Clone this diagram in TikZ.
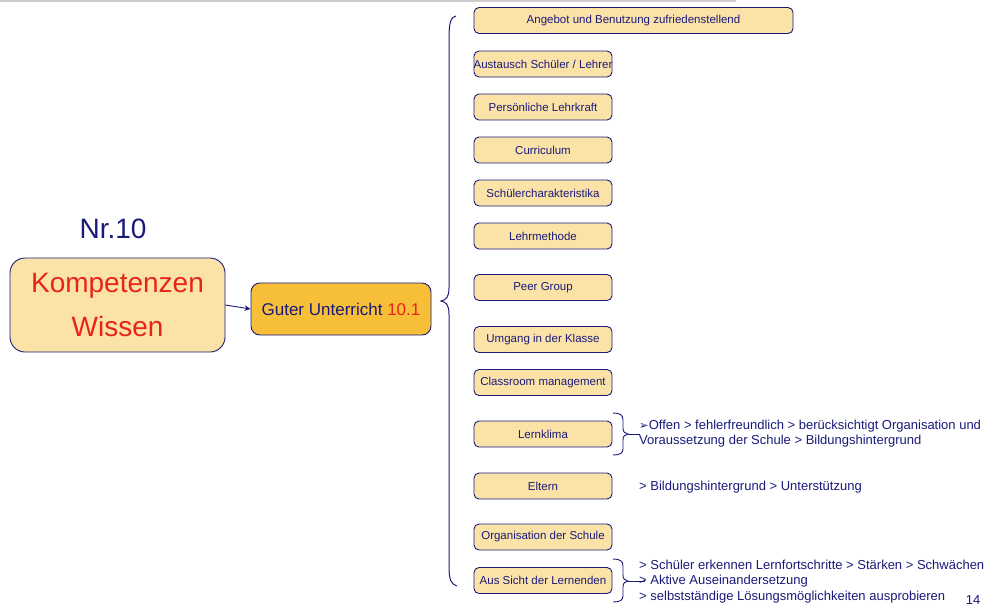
\documentclass[tikz,border=0pt]{standalone}
\usepackage{fontspec}
\setmainfont{Liberation Sans}
\newfontfamily\dejavu{DejaVu Sans}
\usetikzlibrary{arrows.meta}
\definecolor{navy}{RGB}{26,26,122}
\definecolor{boxfill}{RGB}{251,227,168}
\definecolor{orangefill}{RGB}{247,190,56}
\definecolor{redtxt}{RGB}{232,36,24}
\definecolor{topgray}{RGB}{205,205,205}
\newcommand{\sbx}[1]{\makebox[138pt]{#1}}
\begin{document}
\begin{tikzpicture}[x=1pt,y=-1pt,
  smallbox/.style={draw=navy, fill=boxfill, rounded corners=5pt, line width=0.9pt,
    minimum height=26pt, inner xsep=0pt, inner ysep=0pt,
    font=\fontsize{11.5}{13}\selectfont, text=navy},
  bigbox/.style={draw=navy, fill=boxfill, rounded corners=15pt, line width=0.9pt,
    minimum width=215pt, minimum height=94pt, align=center,
    font=\fontsize{28}{42}\selectfont, text=redtxt},
  midbox/.style={draw=navy, fill=orangefill, rounded corners=9pt, line width=0.9pt,
    minimum width=180pt, minimum height=52pt,
    font=\fontsize{17}{20}\selectfont, text=navy},
  sidetext/.style={anchor=west, inner sep=0pt, align=left, text=navy,
    font=\fontsize{13}{15.3}\selectfont},
  bracestyle/.style={draw=navy, line width=1pt}
]
\useasboundingbox (0,0) rectangle (992,606);
\fill[white] (0,0) rectangle (992,606);
\coordinate (g1) at (0,0.7);
\coordinate (g2) at (736,0.7);
\draw[topgray, line width=1.6pt] (g1) -- (g2);

\node[text=navy, font=\fontsize{28}{32}\selectfont] (nr) at (113,229) {Nr.10};
\node[bigbox] (komp) at (117.5,305) {\raisebox{2pt}{Kompetenzen}\\Wissen};
\node[midbox] (guter) at (341,309) {Guter Unterricht \textcolor{redtxt}{10.1}};
\draw[navy, line width=0.9pt, -{Stealth[length=6pt,width=5.5pt]}] (komp.east) -- (guter.west);

\node[smallbox, minimum width=319pt] (b1) at (633.5,20.5) {Angebot und Benutzung zufriedenstellend};
\node[smallbox] (b2) at (543,64) {\sbx{Austausch Schüler / Lehrer}};
\node[smallbox] (b3) at (543,107) {\sbx{Persönliche Lehrkraft}};
\node[smallbox] (b4) at (543,150) {\sbx{Curriculum}};
\node[smallbox] (b5) at (543,193) {\sbx{Schülercharakteristika}};
\node[smallbox] (b6) at (543,236) {\sbx{Lehrmethode}};
\node[smallbox] (b7) at (543,287.5) {\sbx{Peer Group}};
\node[smallbox] (b8) at (543,339.5) {\sbx{Umgang in der Klasse}};
\node[smallbox] (b9) at (543,382.5) {\sbx{Classroom management}};
\node[smallbox] (b10) at (543,434) {\sbx{Lernklima}};
\node[smallbox] (b11) at (543,486) {\sbx{Eltern}};
\node[smallbox] (b12) at (543,537) {\sbx{Organisation der Schule}};
\node[smallbox] (b13) at (543,580.5) {\sbx{Aus Sicht der Lernenden}};

% big brace
\coordinate (btip) at (441,301);
\draw[bracestyle] (456,16) .. controls (451,17) and (449,22) .. (449,38)
  -- (449,288) .. controls (449,297) and (446,300) .. (btip)
  .. controls (446,302) and (449,305) .. (449,314)
  -- (449,566) .. controls (449,580) and (451,584) .. (457,586);

% Lernklima brace
\coordinate (ltip) at (628,434);
\coordinate (lend) at (640,434);
\draw[bracestyle, line width=0.9pt] (613,413) .. controls (620,413) and (623,415) .. (623,420)
  -- (623,428) .. controls (623,432) and (625,433.6) .. (ltip)
  .. controls (625,434.4) and (623,436) .. (623,440)
  -- (623,449) .. controls (623,453) and (620,455) .. (613,455);
\draw[bracestyle, line width=0.9pt] (ltip) -- (lend);

% Aus Sicht brace
\coordinate (atip) at (628,581);
\coordinate (aend) at (645,581);
\draw[bracestyle, line width=0.9pt] (613,559) .. controls (620,559) and (623,561) .. (623,566)
  -- (623,575) .. controls (623,579) and (625,580.6) .. (atip)
  .. controls (625,581.4) and (623,583) .. (623,587)
  -- (623,596) .. controls (623,600) and (620,602) .. (613,602);
\draw[bracestyle, line width=0.9pt] (atip) -- (aend);

\node[sidetext] (t10) at (639,433.5) {{\dejavu\fontsize{11.5}{12}\selectfont ➢}Offen > fehlerfreundlich > berücksichtigt Organisation und\\Voraussetzung der Schule > Bildungshintergrund};
\node[sidetext] (t11) at (639,487) {> Bildungshintergrund > Unterstützung};
\node[sidetext] (t13) at (639,581.5) {> Schüler erkennen Lernfortschritte > Stärken > Schwächen\\> Aktive Auseinandersetzung\\> selbstständige Lösungsmöglichkeiten ausprobieren};
\node[text=navy, font=\fontsize{13}{15}\selectfont] (pg) at (973,600) {14};
\end{tikzpicture}
\end{document}
